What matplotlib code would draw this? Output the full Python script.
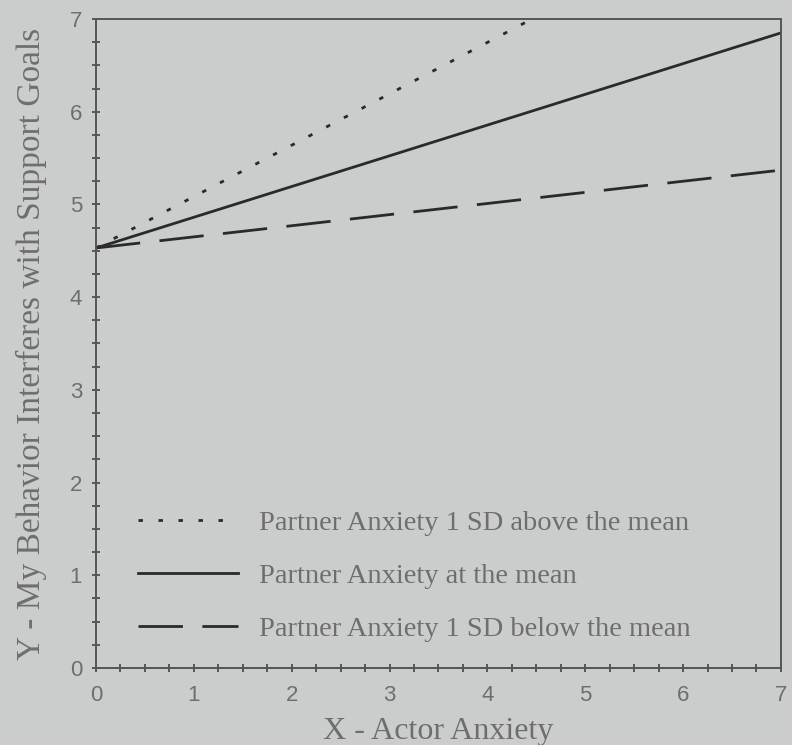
import matplotlib.pyplot as plt
from matplotlib.ticker import MultipleLocator

# simple slopes: predicted outcome at actor anxiety 0 and 7
x_vals = [0, 7]
above_mean = [4.53, 8.41]   # partner anxiety +1 SD (runs off the top)
at_mean = [4.53, 6.85]      # partner anxiety at the mean
below_mean = [4.53, 5.37]   # partner anxiety -1 SD

labels = ['Partner Anxiety 1 SD above the mean',
          'Partner Anxiety at the mean',
          'Partner Anxiety 1 SD below the mean']

bg = '#cbcdcc'
ink = '#2a2a2a'
txt = '#6e6e6e'

fig = plt.figure(figsize=(7.92, 7.45), dpi=100, facecolor=bg)
ax = fig.add_axes([0.1212, 0.1034, 0.8648, 0.8711], facecolor=bg)

ax.plot(x_vals, above_mean, color=ink, lw=2.0, dashes=(1.6, 5.6), label=labels[0])
ax.plot(x_vals, at_mean, color=ink, lw=2.0, label=labels[1])
ax.plot(x_vals, below_mean, color=ink, lw=2.0, dashes=(16, 7), label=labels[2])

ax.set_xlim(0, 7)
ax.set_ylim(0, 7)
ax.xaxis.set_major_locator(MultipleLocator(1))
ax.yaxis.set_major_locator(MultipleLocator(1))
ax.xaxis.set_minor_locator(MultipleLocator(0.25))
ax.yaxis.set_minor_locator(MultipleLocator(0.25))
ax.tick_params(which='both', direction='inout', length=6, width=1.2, color='#444444')
ax.tick_params(which='major', labelsize=16, labelcolor=txt)
ax.tick_params(axis='y', which='major', pad=7)
ax.tick_params(axis='x', which='major', pad=9)

for lab in ax.get_xticklabels() + ax.get_yticklabels():
    lab.set_family('Liberation Sans')

for s in ax.spines.values():
    s.set_color('#555555')
    s.set_linewidth(1.4)

ax.set_xlabel('X - Actor Anxiety', family='Liberation Serif', fontsize=23,
              color=txt, labelpad=8)
ax.set_ylabel('Y - My Behavior Interferes with Support Goals', family='Liberation Serif',
              fontsize=24, color=txt, labelpad=16)

leg = ax.legend(loc='lower left', bbox_to_anchor=(0.062, 0.04), frameon=False,
                borderpad=0, borderaxespad=0,
                handlelength=3.5, handletextpad=0.75, labelspacing=0.95,
                prop={'family': 'Liberation Serif', 'size': 20.5})
for t in leg.get_texts():
    t.set_color(txt)

fig.savefig('out.png', dpi=100, facecolor=bg)
